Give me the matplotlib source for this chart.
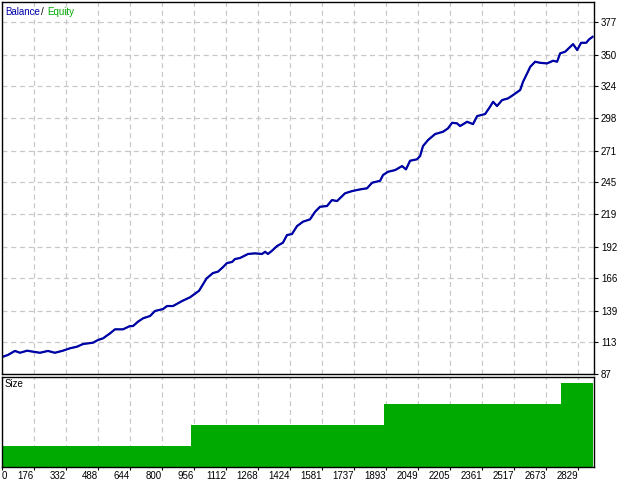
import matplotlib.pyplot as plt

# balance curve (trade number, balance)
trades = [20, 25, 49, 83, 108, 142, 171, 205, 244, 278, 317, 352, 386, 415, 464,
          488, 513, 547, 571, 610, 644, 659, 683, 708, 742, 766, 805, 825, 854,
          898, 937, 981, 1018, 1049, 1073, 1098, 1117, 1142, 1156, 1181, 1220,
          1254, 1288, 1303, 1317, 1337, 1361, 1390, 1410, 1434, 1459, 1488, 1522,
          1547, 1571, 1605, 1629, 1654, 1693, 1727, 1766, 1800, 1825, 1864, 1878,
          1902, 1937, 1971, 1990, 2010, 2044, 2059, 2073, 2098, 2132, 2171, 2195,
          2215, 2239, 2254, 2288, 2317, 2337, 2376, 2400, 2415, 2434, 2459, 2488,
          2512, 2547, 2561, 2581, 2596, 2620, 2644, 2678, 2708, 2727, 2742, 2766,
          2805, 2825, 2844, 2869, 2883, 2900]
balance = [100.5, 101.3, 102.7, 106.0, 104.5, 106.2, 105.4, 104.5, 106.0, 104.5,
           106.2, 108.2, 109.5, 111.7, 112.8, 115.0, 116.4, 120.5, 123.8, 123.8,
           126.5, 126.5, 130.1, 132.9, 134.8, 138.9, 140.5, 143.0, 143.0, 147.1,
           150.2, 155.6, 165.8, 170.2, 171.3, 175.1, 178.4, 179.3, 181.7, 182.6,
           185.9, 186.4, 185.9, 187.7, 185.9, 188.6, 192.4, 195.2, 201.5, 202.3,
           208.9, 212.5, 214.4, 220.7, 224.8, 225.4, 230.3, 229.5, 235.9, 237.7,
           239.1, 240.0, 244.6, 246.2, 250.9, 253.6, 255.0, 258.3, 255.6, 262.7,
           263.9, 266.6, 274.8, 279.8, 284.7, 286.6, 289.4, 294.0, 293.5, 291.3,
           294.8, 292.9, 299.5, 301.2, 307.2, 311.3, 307.8, 312.7, 314.1, 316.8,
           321.0, 327.8, 334.7, 340.1, 344.3, 343.4, 342.9, 345.1, 344.3, 351.2,
           352.5, 358.8, 353.9, 359.9, 359.9, 362.7, 364.8]
equity = balance

# lot size steps
size_trades = [20, 942, 1883, 2746, 2900]
size_lots = [0.1, 0.2, 0.3, 0.4, 0.4]

x_ticks = [20, 176, 332, 488, 644, 800, 956, 1112, 1268, 1424, 1581, 1737,
           1893, 2049, 2205, 2361, 2517, 2673, 2829]
x_labels = ['0'] + [str(v) for v in x_ticks[1:]]
y_ticks = [87, 113, 139, 166, 192, 219, 245, 271, 298, 324, 350, 377]

blue = '#0000AA'
green = '#00AA00'
grid_col = '#C8C8C8'
fs = 7

plt.rcParams['font.family'] = ['Liberation Sans', 'DejaVu Sans']

fig = plt.figure(figsize=(6.4, 4.8), dpi=100)
ax = fig.add_axes([2 / 640, 106 / 480, 592 / 640, 372 / 480])
ax2 = fig.add_axes([2 / 640, 13 / 480, 592 / 640, 90 / 480])

# top panel: balance / equity
ax.plot(trades, equity, color=green, lw=1)
ax.plot(trades, balance, color=blue, lw=1.6)
ax.set_xlim(20, 2907)
ax.set_ylim(87, 393.5)
ax.set_yticks(y_ticks)
ax.set_yticklabels([str(v) for v in y_ticks], fontsize=fs)
ax.yaxis.tick_right()
ax.tick_params(axis='y', direction='out', length=3, pad=2, width=0.8)
ax.set_xticks(x_ticks)
ax.tick_params(axis='x', bottom=False, labelbottom=False)
ax.grid(True, color=grid_col, ls=(0, (4, 3)), lw=0.9)
ax.set_axisbelow(True)
for s in ax.spines.values():
    s.set_linewidth(1)

# bottom panel: size
ax2.fill_between(size_trades, size_lots, step='post', color=green, lw=0)
ax2.set_xlim(20, 2907)
ax2.set_ylim(0, 0.43)
ax2.set_yticks([])
ax2.set_xticks(x_ticks)
ax2.set_xticklabels(x_labels, fontsize=fs)
for lab in ax2.get_xticklabels()[1:]:
    lab.set_horizontalalignment('right')
ax2.get_xticklabels()[0].set_horizontalalignment('left')
ax2.tick_params(axis='x', direction='out', length=2, pad=1, width=0.8)
ax2.grid(True, axis='x', color=grid_col, ls=(0, (4, 3)), lw=0.9)
ax2.set_axisbelow(True)
for s in ax2.spines.values():
    s.set_linewidth(1)

# labels
fig.text(5 / 640, 1 - 12 / 480, 'Balance', color=blue, fontsize=fs, va='center')
fig.text(41 / 640, 1 - 12 / 480, '/', color='black', fontsize=fs, va='center')
fig.text(47 / 640, 1 - 12 / 480, 'Equity', color=green, fontsize=fs, va='center')
fig.text(5 / 640, 1 - 384 / 480, 'Size', color='black', fontsize=fs, va='center')

plt.savefig('out.png', dpi=100)
